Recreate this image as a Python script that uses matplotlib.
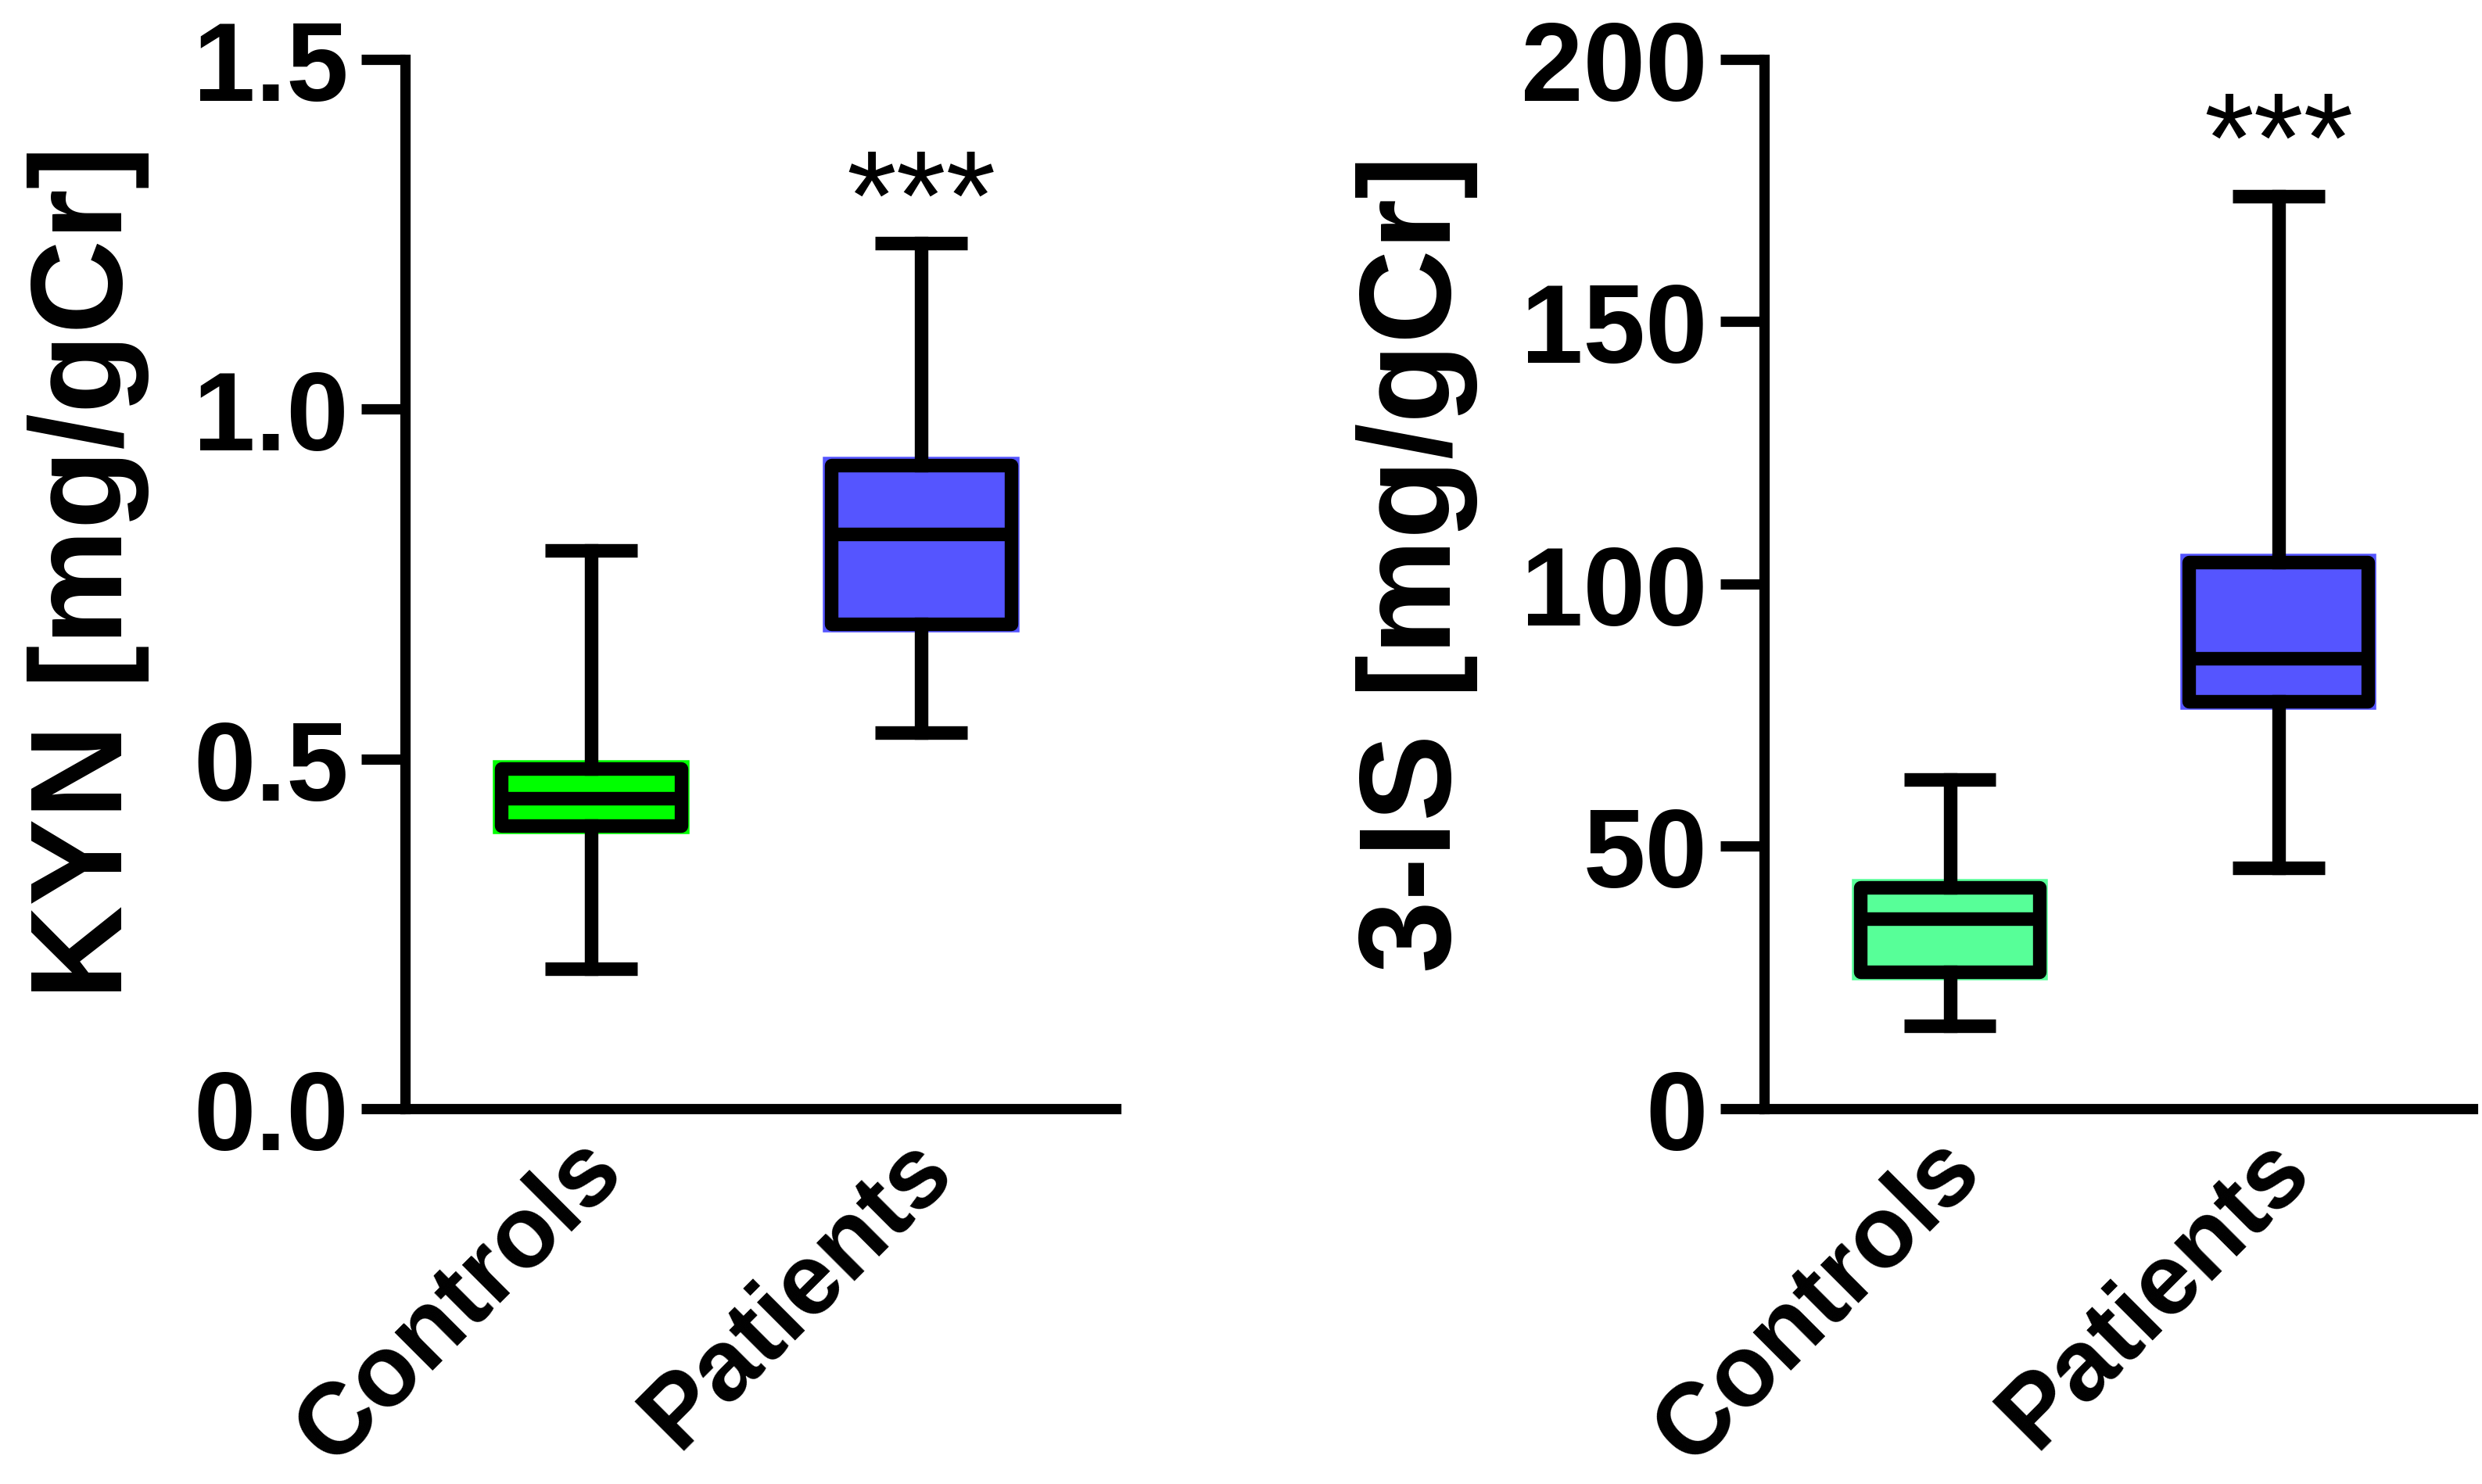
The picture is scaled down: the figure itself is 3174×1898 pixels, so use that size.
import matplotlib
matplotlib.use("Agg")
import matplotlib.pyplot as plt
from matplotlib.patches import Rectangle
from matplotlib.transforms import ScaledTranslation

plt.rcParams['font.family'] = ['Liberation Sans', 'DejaVu Sans']

# Group names and box statistics
groups = ["Controls", "Patients"]

kyn_whislo = [0.20, 0.538]
kyn_q1 = [0.405, 0.693]
kyn_med = [0.444, 0.822]
kyn_q3 = [0.486, 0.920]
kyn_whishi = [0.798, 1.237]
kyn_ticks = [0.0, 0.5, 1.0, 1.5]
kyn_ticklabels = ["0.0", "0.5", "1.0", "1.5"]

is_whislo = [15.8, 45.9]
is_q1 = [26.0, 77.6]
is_med = [36.2, 85.8]
is_q3 = [42.1, 104.2]
is_whishi = [62.7, 173.9]
is_ticks = [0, 50, 100, 150, 200]
is_ticklabels = ["0", "50", "100", "150", "200"]

kyn_colors = ["#00FF00", "#5555FF"]
is_colors = ["#57FF98", "#5555FF"]

# star annotations (value where the stars are drawn)
kyn_star_y = 1.29
is_star_y = 183.0

LW = 12.5


def draw_panel(ax, whislo, q1, med, q3, whishi, colors, ticks, ticklabels, ylabel, star_y, label_y):
    positions = [1, 2]
    width = 0.545
    stats = []
    for i in range(len(groups)):
        stats.append(dict(med=med[i], q1=q1[i], q3=q3[i], whislo=whislo[i],
                          whishi=whishi[i], fliers=[], label=groups[i]))
        # coloured rim behind the black outline
        ax.add_patch(Rectangle((positions[i] - width / 2, q1[i]), width, q3[i] - q1[i],
                               facecolor=colors[i], edgecolor=colors[i],
                               linewidth=LW + 3, zorder=1))
    bp = ax.bxp(stats, positions=positions, widths=width, capwidths=0.28,
                patch_artist=True, showfliers=False,
                boxprops=dict(linewidth=LW, edgecolor="black", joinstyle="round"),
                whiskerprops=dict(linewidth=LW, color="black"),
                capprops=dict(linewidth=LW, color="black", solid_capstyle="butt"),
                medianprops=dict(linewidth=LW, color="black", solid_capstyle="butt"))
    for patch, c in zip(bp["boxes"], colors):
        patch.set_facecolor(c)
        patch.set_zorder(2)

    ax.set_xlim(0.435, 2.59)
    ax.set_ylim(ticks[0], ticks[-1])
    ax.set_yticks(ticks)
    ax.set_yticklabels(ticklabels, fontsize=103, fontweight="bold")
    ax.set_xticks(positions)
    ax.tick_params(axis="x", length=0, pad=42)
    ax.tick_params(axis="y", length=40, width=9.5, pad=12)
    ax.set_xticklabels(groups, fontsize=93, fontweight="bold", rotation=45,
                       ha="right", va="center", rotation_mode="anchor")
    shift = ScaledTranslation(0.2, 0, fig.dpi_scale_trans)
    for lab in ax.get_xticklabels():
        lab.set_transform(lab.get_transform() + shift)
    ax.spines["top"].set_visible(False)
    ax.spines["right"].set_visible(False)
    ax.spines["left"].set_linewidth(9.5)
    ax.spines["bottom"].set_linewidth(9.5)
    ax.set_ylabel(ylabel, fontsize=120, fontweight="bold", labelpad=40)
    ax.yaxis.label.set_y(label_y)
    ax.text(2, star_y, "***", fontsize=118, ha="center", va="center")


fig = plt.figure(figsize=(31.74, 18.99), dpi=100)
ax1 = fig.add_axes([0.1632, 0.2528, 0.2864, 0.7067])
ax2 = fig.add_axes([0.7108, 0.2528, 0.2854, 0.7067])

draw_panel(ax1, kyn_whislo, kyn_q1, kyn_med, kyn_q3, kyn_whishi, kyn_colors,
           kyn_ticks, kyn_ticklabels, "KYN [mg/gCr]", kyn_star_y, 0.512)
draw_panel(ax2, is_whislo, is_q1, is_med, is_q3, is_whishi, is_colors,
           is_ticks, is_ticklabels, "3-IS [mg/gCr]", is_star_y, 0.520)

fig.savefig("out.png", dpi=100)
